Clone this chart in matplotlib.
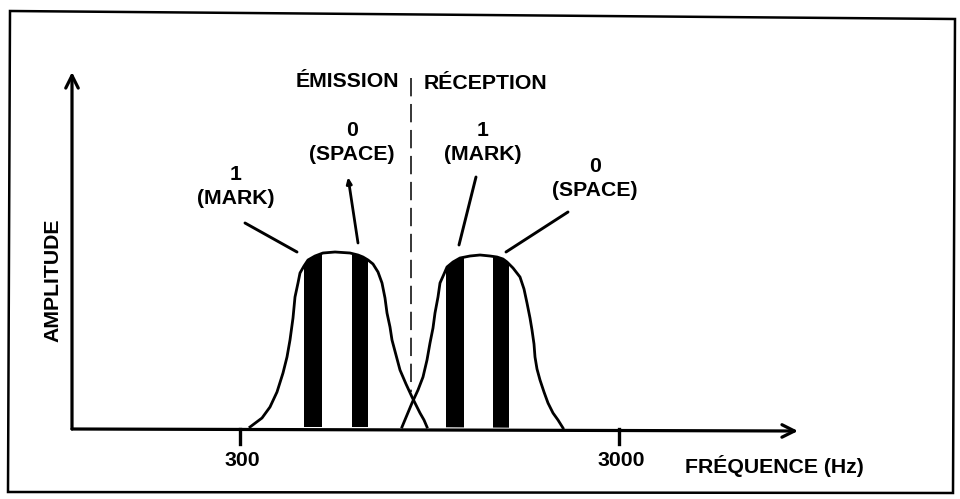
"""FSK modem spectrum sketch: emission / reception bands with MARK and SPACE tones."""
import matplotlib
matplotlib.use("Agg")
import matplotlib.pyplot as plt
from matplotlib.patches import Polygon

# ---- drawing coordinates (pixel space of the 960x499 sheet, y grows downward) ----
# bell outline of the emission band (x, y)
EMIT_X = [250, 262, 270, 277, 283, 287, 290, 293, 295, 298, 300, 304, 308, 315, 323,
          335, 350, 358, 363, 368, 373, 378, 382, 385, 387, 390, 392, 396, 400, 406,
          412, 416, 420, 424, 427]
EMIT_Y = [427, 418, 407, 392, 373, 357, 340, 318, 297, 283, 273, 266, 260, 256, 253,
          252, 253, 255, 257, 260, 264, 272, 283, 298, 313, 327, 340, 355, 370, 384,
          397, 405, 413, 420, 427]
# bell outline of the reception band
RECV_X = [402, 407, 412, 418, 423, 427, 430, 433, 435, 438, 440, 444, 447, 453, 460,
          470, 480, 490, 497, 503, 507, 513, 520, 524, 527, 530, 532, 534, 535, 537,
          540, 544, 548, 553, 558, 563]
RECV_Y = [427, 415, 403, 390, 377, 360, 343, 328, 313, 297, 283, 274, 267, 262, 258,
          256, 255, 256, 257, 259, 262, 268, 277, 289, 303, 318, 330, 344, 357, 369,
          380, 392, 403, 413, 420, 428]

# tone bars inside each band: (left, right) at baseline
EMIT_BARS = [(304, 322), (352, 368)]
RECV_BARS = [(446, 464), (493, 509)]

# tone labels: (number, name, x, y of number line, y of name line)
TONE_LABELS = [("1", "(MARK)", 236, 175, 198),
               ("0", "(SPACE)", 352, 131, 154),
               ("1", "(MARK)", 483, 131, 154),
               ("0", "(SPACE)", 595, 167, 190)]
# leader lines: (x_from, y_from, x_to, y_to)
LEADERS = [(245, 223, 297, 252),
           (476, 177, 459, 245),
           (568, 212, 506, 252)]
SPACE_ARROW = (358, 243, 348, 177)

# frequency ticks
TICK_X = [240, 619]
TICK_LABELS = ["300", "3000"]

ORIGIN = (72, 429)
X_END = 798
Y_END = 72
BASE_Y = 429
DIVIDER_X = 411

FONT = dict(family="Liberation Sans", fontweight="bold", fontsize=15.3, color="black")

fig = plt.figure(figsize=(9.6, 4.99), dpi=100)
ax = fig.add_axes([0, 0, 1, 1])
ax.set_xlim(0, 960)
ax.set_ylim(499, 0)
ax.axis("off")

# outer frame
frame = Polygon([(10, 11), (955, 19), (953, 493), (8, 492)], closed=True,
                fill=False, lw=1.8, ec="black")
ax.add_patch(frame)

# axes with arrowheads
arrow = dict(arrowstyle="->,head_length=0.9,head_width=0.45", lw=2.3, color="black",
             shrinkA=0, shrinkB=0)
ax.annotate("", xy=(ORIGIN[0], Y_END), xytext=ORIGIN, arrowprops=arrow)
ax.annotate("", xy=(X_END, BASE_Y + 2), xytext=(ORIGIN[0], BASE_Y), arrowprops=arrow)

# ticks + labels
for tx, lab in zip(TICK_X, TICK_LABELS):
    ax.plot([tx, tx], [BASE_Y, BASE_Y + 15], color="black", lw=2.4)
    ax.text(tx + 2, 460, lab, ha="center", va="center", **FONT)
ax.text(685, 466, "FRÉQUENCE (Hz)", ha="left", va="center", **FONT)
ax.text(53, 280, "AMPLITUDE", rotation=90, ha="center", va="center", **FONT)

# emission / reception divider
ax.plot([DIVIDER_X, DIVIDER_X], [78, 392], color="black", lw=1.1,
        ls=(0, (12, 5)))
ax.text(399, 81, "ÉMISSION", ha="right", va="center", **FONT)
ax.text(424, 83, "RÉCEPTION", ha="left", va="center", **FONT)

# bands with clipped tone bars
for xs, ys, bars in [(EMIT_X, EMIT_Y, EMIT_BARS), (RECV_X, RECV_Y, RECV_BARS)]:
    outline = Polygon(list(zip(xs, ys)), closed=True, fill=False, lw=0)
    ax.add_patch(outline)
    for left, right in bars:
        bar = ax.fill_between([left, right], [BASE_Y, BASE_Y], [240, 240],
                              color="black", lw=0)
        bar.set_clip_path(outline)
    ax.plot(xs, ys, color="black", lw=2.0, solid_joinstyle="round")

# tone labels and leaders
for num, name, lx, y1, y2 in TONE_LABELS:
    ax.text(lx, y1, num, ha="center", va="center", **FONT)
    ax.text(lx, y2, name, ha="center", va="center", **FONT)
for x0, y0, x1, y1 in LEADERS:
    ax.plot([x0, x1], [y0, y1], color="black", lw=2.1, solid_capstyle="round")
ax.annotate("", xy=SPACE_ARROW[2:], xytext=SPACE_ARROW[:2],
            arrowprops=dict(arrowstyle="-|>,head_length=0.35,head_width=0.15",
                            lw=2.0, color="black", shrinkA=0, shrinkB=0))

fig.savefig("out.png", dpi=100)
